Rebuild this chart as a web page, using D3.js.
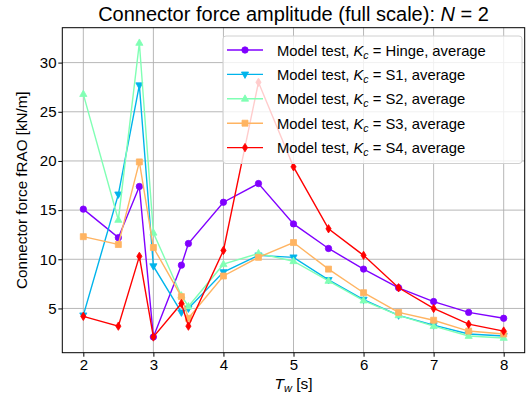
<!DOCTYPE html>
<html>
<head>
<meta charset="utf-8">
<script src="https://cdn.jsdelivr.net/npm/d3@7"></script>
<style>
  body { margin: 0; background: #fff; }
  svg { display: block; font-family: "Liberation Sans", Arial, Helvetica, sans-serif; }
</style>
</head>
<body>
<svg id="chart" width="527" height="396"></svg>
<script>
// wave periods [s]
const periods = [2, 2.5, 2.8, 3, 3.4, 3.5, 4, 4.5, 5, 5.5, 6, 6.5, 7, 7.5, 8]

// connector force fRAO [kN/m], one array per connector stiffness
const hinge = [15.1, 12.2, 17.4, 2.1, 9.4, 11.6, 15.8, 17.7, 13.6, 11.1, 9.0, 7.1, 5.7, 4.6, 4.0]
const s1 = [4.3, 16.6, 27.7, 9.3, 4.6, 5.0, 8.7, 10.4, 10.2, 7.9, 5.9, 4.3, 3.3, 2.4, 2.2]
const s2 = [26.8, 14.0, 32.0, 12.7, 6.3, 5.2, 9.5, 10.6, 9.8, 7.8, 5.8, 4.3, 3.2, 2.2, 2.0]
const s3 = [12.3, 11.5, 19.9, 11.2, 6.2, 4.0, 8.3, 10.2, 11.7, 9.0, 6.6, 4.6, 3.8, 2.7, 2.4]
const s4 = [4.2, 3.2, 10.3, 2.1, 5.5, 3.2, 10.9, 28.0, 19.4, 13.1, 10.4, 7.1, 5.0, 3.4, 2.7]

const seriesNames = ['Hinge', 'S1', 'S2', 'S3', 'S4']
const xTicks = [2, 3, 4, 5, 6, 7, 8]
const yTicks = [5, 10, 15, 20, 25, 30]

const series = [
  { name: seriesNames[0], values: hinge, color: '#8000ff', marker: 'circle' },
  { name: seriesNames[1], values: s1, color: '#00b4eb', marker: 'tridown' },
  { name: seriesNames[2], values: s2, color: '#80ffb4', marker: 'triup' },
  { name: seriesNames[3], values: s3, color: '#ffb462', marker: 'square' },
  { name: seriesNames[4], values: s4, color: '#ff0000', marker: 'thindiamond' }
]

const margin = { top: 27.7, right: 2.3, bottom: 43.3, left: 62.3 }
const width = 527
const height = 396

const svg = d3.select('#chart')

const x = d3.scaleLinear()
  .domain([1.7, 8.3])
  .range([margin.left, width - margin.right])

const y = d3.scaleLinear()
  .domain([0.5, 33.55])
  .range([height - margin.bottom, margin.top])

// grid
const grid = svg.append('g').attr('stroke', '#b0b0b0').attr('stroke-width', 0.9)
grid.selectAll('.gx').data(xTicks).join('line')
  .attr('x1', d => x(d)).attr('x2', d => x(d))
  .attr('y1', margin.top).attr('y2', height - margin.bottom)
grid.selectAll('.gy').data(yTicks).join('line')
  .attr('y1', d => y(d)).attr('y2', d => y(d))
  .attr('x1', margin.left).attr('x2', width - margin.right)

// markers
function markerPath(type) {
  switch (type) {
    case 'circle': return d3.symbol(d3.symbolCircle, 32)()
    case 'square': return 'M-3,-3H3V3H-3Z'
    case 'triup': return 'M0,-4L3.6,2.4L-3.6,2.4Z'
    case 'tridown': return 'M0,4L3.6,-2.4L-3.6,-2.4Z'
    case 'thindiamond': return 'M0,-4.2L2.6,0L0,4.2L-2.6,0Z'
  }
}

const line = d3.line()
  .x((d, i) => x(periods[i]))
  .y(d => y(d))

series.forEach(s => {
  const g = svg.append('g')
  g.append('path')
    .datum(s.values)
    .attr('fill', 'none')
    .attr('stroke', s.color)
    .attr('stroke-width', 1.4)
    .attr('d', line)
  g.selectAll('path.m').data(s.values).join('path')
    .attr('class', 'm')
    .attr('transform', (d, i) => `translate(${x(periods[i])},${y(d)})`)
    .attr('d', markerPath(s.marker))
    .attr('fill', s.color)
    .attr('stroke', s.color)
    .attr('stroke-width', 0.8)
})

// axes
const xAxis = d3.axisBottom(x).tickValues(xTicks).tickSize(4).tickPadding(2.5).tickFormat(d3.format('d'))
const yAxis = d3.axisLeft(y).tickValues(yTicks).tickSize(4).tickPadding(1.8).tickFormat(d3.format('d'))

const gx = svg.append('g')
  .attr('transform', `translate(0,${height - margin.bottom})`)
  .call(xAxis)
const gy = svg.append('g')
  .attr('transform', `translate(${margin.left},0)`)
  .call(yAxis)

;[gx, gy].forEach(g => {
  g.select('.domain').remove()
  g.selectAll('.tick line').attr('stroke', '#000').attr('stroke-width', 1)
  g.selectAll('.tick text').attr('fill', '#000').attr('font-size', 15)
    .attr('font-family', '"Liberation Sans", Arial, sans-serif')
})

// frame
svg.append('rect')
  .attr('x', margin.left).attr('y', margin.top)
  .attr('width', width - margin.left - margin.right)
  .attr('height', height - margin.top - margin.bottom)
  .attr('fill', 'none')
  .attr('stroke', '#000')
  .attr('stroke-width', 1)

// title
const title = svg.append('text')
  .attr('x', (margin.left + width - margin.right) / 2)
  .attr('y', 21)
  .attr('text-anchor', 'middle')
  .attr('font-size', 20)
title.append('tspan').text('Connector force amplitude (full scale): ')
title.append('tspan').attr('font-style', 'italic').text('N')
title.append('tspan').text(' = 2')

// x label
const xl = svg.append('text')
  .attr('x', (margin.left + width - margin.right) / 2)
  .attr('y', 389)
  .attr('text-anchor', 'middle')
  .attr('font-size', 15.5)
xl.append('tspan').attr('font-style', 'italic').text('T')
xl.append('tspan').attr('font-style', 'italic').attr('font-size', 11).attr('dy', 3).text('w')
xl.append('tspan').attr('dy', -3).text(' [s]')

// y label
svg.append('text')
  .attr('transform', `translate(27,${(margin.top + height - margin.bottom) / 2}) rotate(-90)`)
  .attr('text-anchor', 'middle')
  .attr('font-size', 15.2)
  .text('Connector force fRAO [kN/m]')

// legend
const legend = svg.append('g').attr('transform', 'translate(223,36)')
legend.append('rect')
  .attr('width', 299).attr('height', 127.5)
  .attr('rx', 3)
  .attr('fill', 'rgba(255,255,255,0.8)')
  .attr('stroke', '#d0d0d0')
  .attr('stroke-width', 1)

series.forEach((s, i) => {
  const row = legend.append('g').attr('transform', `translate(0,${14 + i * 24.4})`)
  row.append('line')
    .attr('x1', 4).attr('x2', 40)
    .attr('stroke', s.color).attr('stroke-width', 1.4)
  row.append('path')
    .attr('transform', 'translate(22,0)')
    .attr('d', markerPath(s.marker))
    .attr('fill', s.color).attr('stroke', s.color).attr('stroke-width', 0.8)
  const t = row.append('text')
    .attr('x', 54).attr('y', 5.5)
    .attr('font-size', 14.8)
  t.append('tspan').text('Model test, ')
  t.append('tspan').attr('font-style', 'italic').text('K')
  t.append('tspan').attr('font-style', 'italic').attr('font-size', 10.5).attr('dy', 3).text('c')
  t.append('tspan').attr('dy', -3).text(' = ' + s.name + ', average')
})
</script>
</body>
</html>
